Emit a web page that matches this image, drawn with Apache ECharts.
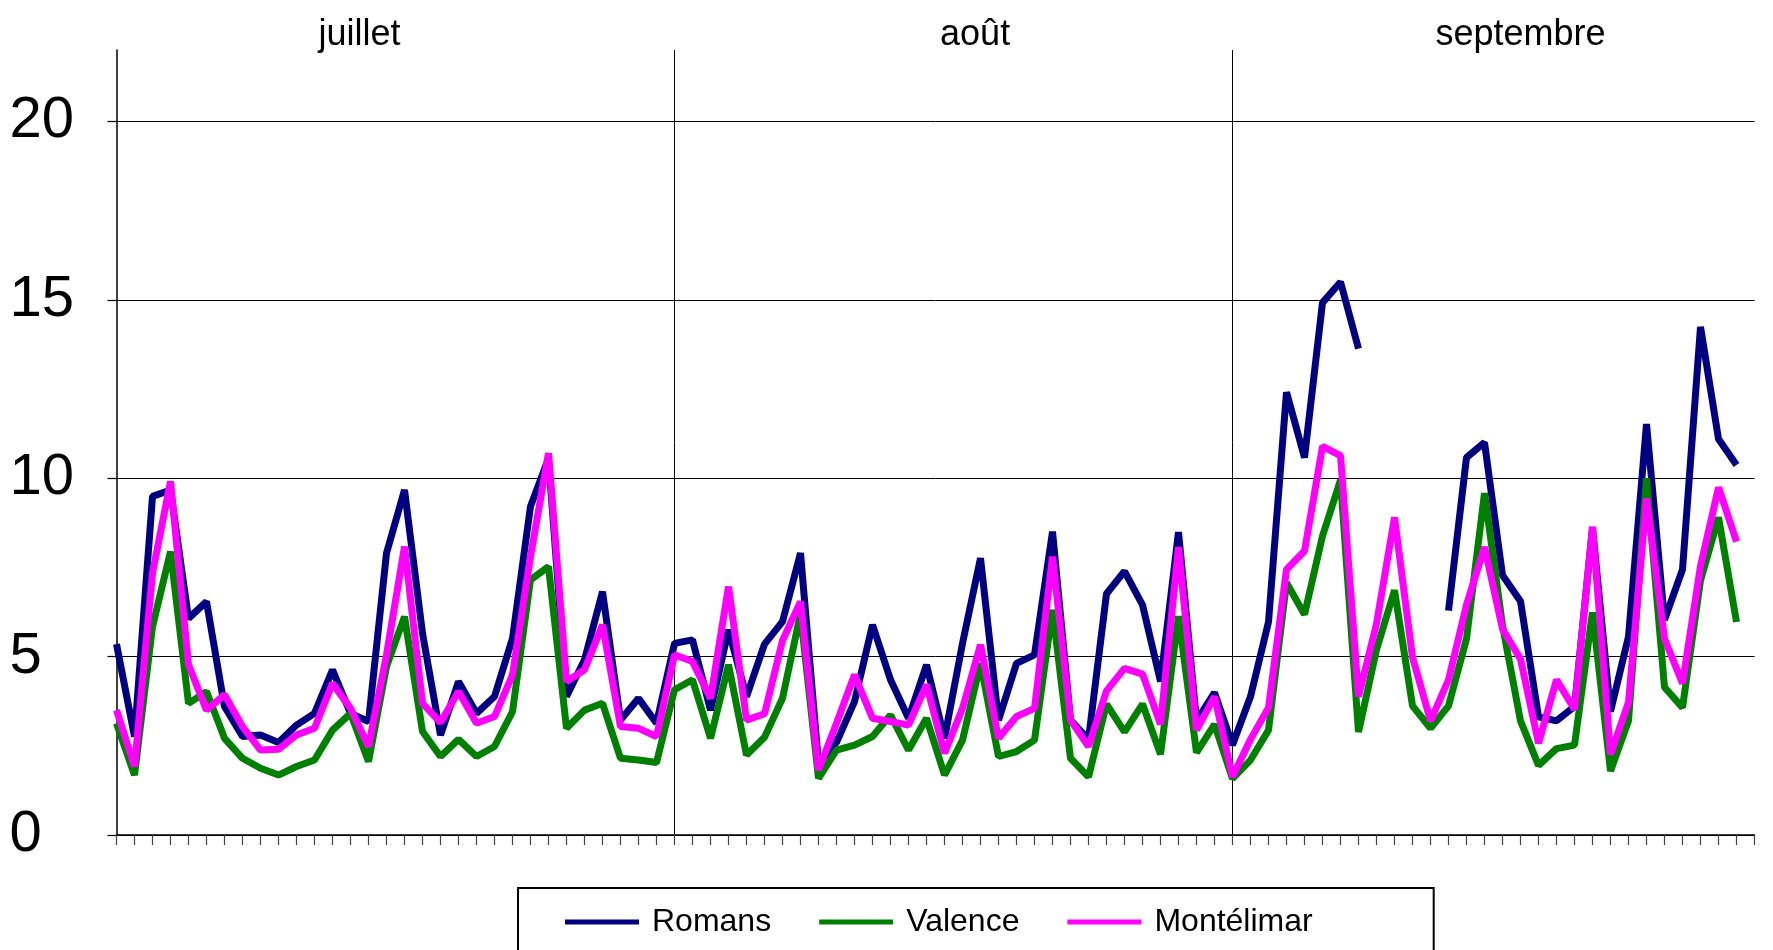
<!DOCTYPE html>
<html>
<head>
<meta charset="utf-8">
<script src="https://cdn.jsdelivr.net/npm/echarts@6/dist/echarts.min.js"></script>
<style>
  html, body { margin: 0; padding: 0; background: #fff; }
  #chart { width: 1773px; height: 950px; }
</style>
</head>
<body>
<div id="chart"></div>
<script>
// ---- data ----
const months = ['juillet', 'août', 'septembre'];
const monthDays = [31, 31, 30];
const monthLabelAt = [13.5, 47.7, 78];   // day index where each month name is centred
const yTicks = [0, 5, 10, 15, 20];

const romans = [
  5.35, 2.76, 9.49, 9.67, 6.07, 6.54, 3.6, 2.76, 2.8, 2.59,
  3.08, 3.41, 4.63, 3.41, 3.18, 7.9, 9.67, 5.65, 2.8, 4.3,
  3.41, 3.88, 5.51, 9.21, 10.55, 3.88, 4.91, 6.82, 3.22, 3.83,
  3.13,
  5.37, 5.47, 3.5, 5.75, 3.88, 5.35, 5.98, 7.9, 2.0, 2.6,
  3.74, 5.89, 4.35, 3.27, 4.77, 2.71, 5.37, 7.76, 3.22, 4.81,
  5.05, 8.5, 3.22, 2.68, 6.76, 7.39, 6.45, 4.3, 8.49, 3.2,
  3.99,
  2.52, 3.88, 5.97, 12.41, 10.58, 14.92, 15.5, 13.63, null, null,
  null, null, 6.29, 10.58, 11.0, 7.28, 6.55, 3.31, 3.2, 3.6,
  8.6, 3.46, 5.56, 11.52, 6.03, 7.44, 14.24, 11.1, 10.37, null
];
const valence = [
  3.13, 1.68, 5.84, 7.94, 3.69, 4.02, 2.71, 2.15, 1.87, 1.68,
  1.92, 2.10, 2.94, 3.41, 2.06, 4.72, 6.12, 2.90, 2.20, 2.68,
  2.2, 2.48, 3.46, 7.15, 7.52, 2.99, 3.5, 3.69, 2.15, 2.1,
  2.03,
  4.07, 4.35, 2.71, 4.77, 2.24, 2.74, 3.83, 6.2, 1.59, 2.38,
  2.52, 2.76, 3.36, 2.38, 3.27, 1.68, 2.66, 4.81, 2.2, 2.34,
  2.66, 6.31, 2.15, 1.63, 3.67, 2.89, 3.67, 2.26, 6.13, 2.31,
  3.1,
  1.58, 2.1, 2.94, 7.07, 6.18, 8.38, 9.95, 2.89, 5.19, 6.86,
  3.62, 2.99, 3.62, 5.5, 9.58, 5.87, 3.2, 1.95, 2.42, 2.52,
  6.24, 1.79, 3.2, 10.0, 4.14, 3.57, 7.13, 8.9, 5.97, null
];
const montelimar = [
  3.5, 1.92, 7.34, 9.91, 4.77, 3.5, 3.93, 3.04, 2.38, 2.4,
  2.8, 2.99, 4.25, 3.55, 2.48, 5.05, 8.08, 3.69, 3.15, 4.02,
  3.13, 3.32, 4.49, 7.8, 10.7, 4.3, 4.63, 5.89, 3.04, 2.99,
  2.76,
  5.05, 4.86, 3.83, 6.96, 3.22, 3.4, 5.45, 6.54, 1.82, 3.13,
  4.49, 3.27, 3.18, 3.08, 4.21, 2.29, 3.55, 5.33, 2.71, 3.32,
  3.55, 7.8, 3.22, 2.48, 4.04, 4.67, 4.51, 3.1, 8.07, 2.94,
  3.88,
  1.63, 2.68, 3.57, 7.44, 7.96, 10.89, 10.63, 3.88, 5.92, 8.9,
  4.98, 3.2, 4.35, 6.45, 8.07, 5.77, 4.93, 2.57, 4.35, 3.52,
  8.64, 2.26, 3.72, 9.43, 5.5, 4.25, 7.54, 9.74, 8.22, null
];

// day categories (1 juillet ... 30 septembre)
const categories = [];
months.forEach((m, i) => {
  for (let d = 1; d <= monthDays[i]; d++) categories.push(d + ' ' + m);
});
// indices where a new month starts (vertical separators)
const monthStarts = [];
monthDays.reduce((acc, n) => { monthStarts.push(acc); return acc + n; }, 0);

const FONT = 'Liberation Sans, Arial, sans-serif';
const chart = echarts.init(document.getElementById('chart'), null, { renderer: 'canvas' });

chart.setOption({
  animation: false,
  backgroundColor: '#fff',
  textStyle: { fontFamily: FONT },
  grid: { left: 116.5, right: 18.5, top: 50, bottom: 115, containLabel: false },
  legend: {
    data: ['Romans', 'Valence', 'Montélimar'],
    left: 518, top: 888,
    orient: 'horizontal',
    icon: 'rect',
    itemWidth: 74, itemHeight: 5, itemGap: 48,
    padding: [18, 121, 18, 47],
    borderColor: '#000', borderWidth: 2, backgroundColor: '#fff',
    textStyle: { fontFamily: FONT, fontSize: 32, color: '#000', padding: [0, 0, 0, 8] }
  },
  xAxis: [
    {
      type: 'category',
      data: categories,
      boundaryGap: false,
      position: 'bottom',
      axisLine: { show: true, lineStyle: { color: '#000', width: 1.5 } },
      axisTick: { show: true, interval: 0, length: 10, lineStyle: { color: '#444', width: 1.2 } },
      axisLabel: { show: false },
      splitLine: {
        show: true,
        interval: (i) => monthStarts.indexOf(i) > 0,
        lineStyle: { color: '#000', width: 1 }
      }
    },
    {
      type: 'value',
      position: 'top',
      min: 0, max: categories.length - 1,
      axisLine: { show: false },
      axisTick: { show: false },
      splitLine: { show: false },
      axisLabel: {
        customValues: monthLabelAt,
        formatter: (v) => { const k = monthLabelAt.indexOf(v); return k >= 0 ? months[k] : ''; },
        fontSize: 36, color: '#000', fontFamily: FONT, margin: -3
      }
    }
  ],
  yAxis: {
    type: 'value',
    min: 0, max: 22, interval: 5,
    axisLine: { show: true, lineStyle: { color: '#000', width: 1.5 } },
    axisTick: { show: true, length: 9, customValues: yTicks, lineStyle: { color: '#000', width: 1.2 } },
    axisLabel: {
      customValues: yTicks,
      fontSize: 58, color: '#000', fontFamily: FONT,
      align: 'left', margin: 107
    },
    splitLine: {
      show: true,
      lineStyle: { color: ['#000', '#000', '#000', '#000', '#000', 'rgba(0,0,0,0)'], width: 1 }
    }
  },
  series: [
    { name: 'Romans', type: 'line', data: romans, symbol: 'none', connectNulls: false,
      color: '#000080', lineStyle: { color: '#000080', width: 7 } },
    { name: 'Valence', type: 'line', data: valence, symbol: 'none', connectNulls: false,
      color: '#008000', lineStyle: { color: '#008000', width: 7 } },
    { name: 'Montélimar', type: 'line', data: montelimar, symbol: 'none', connectNulls: false,
      color: '#FF00FF', lineStyle: { color: '#FF00FF', width: 7 } }
  ]
});
</script>
</body>
</html>
